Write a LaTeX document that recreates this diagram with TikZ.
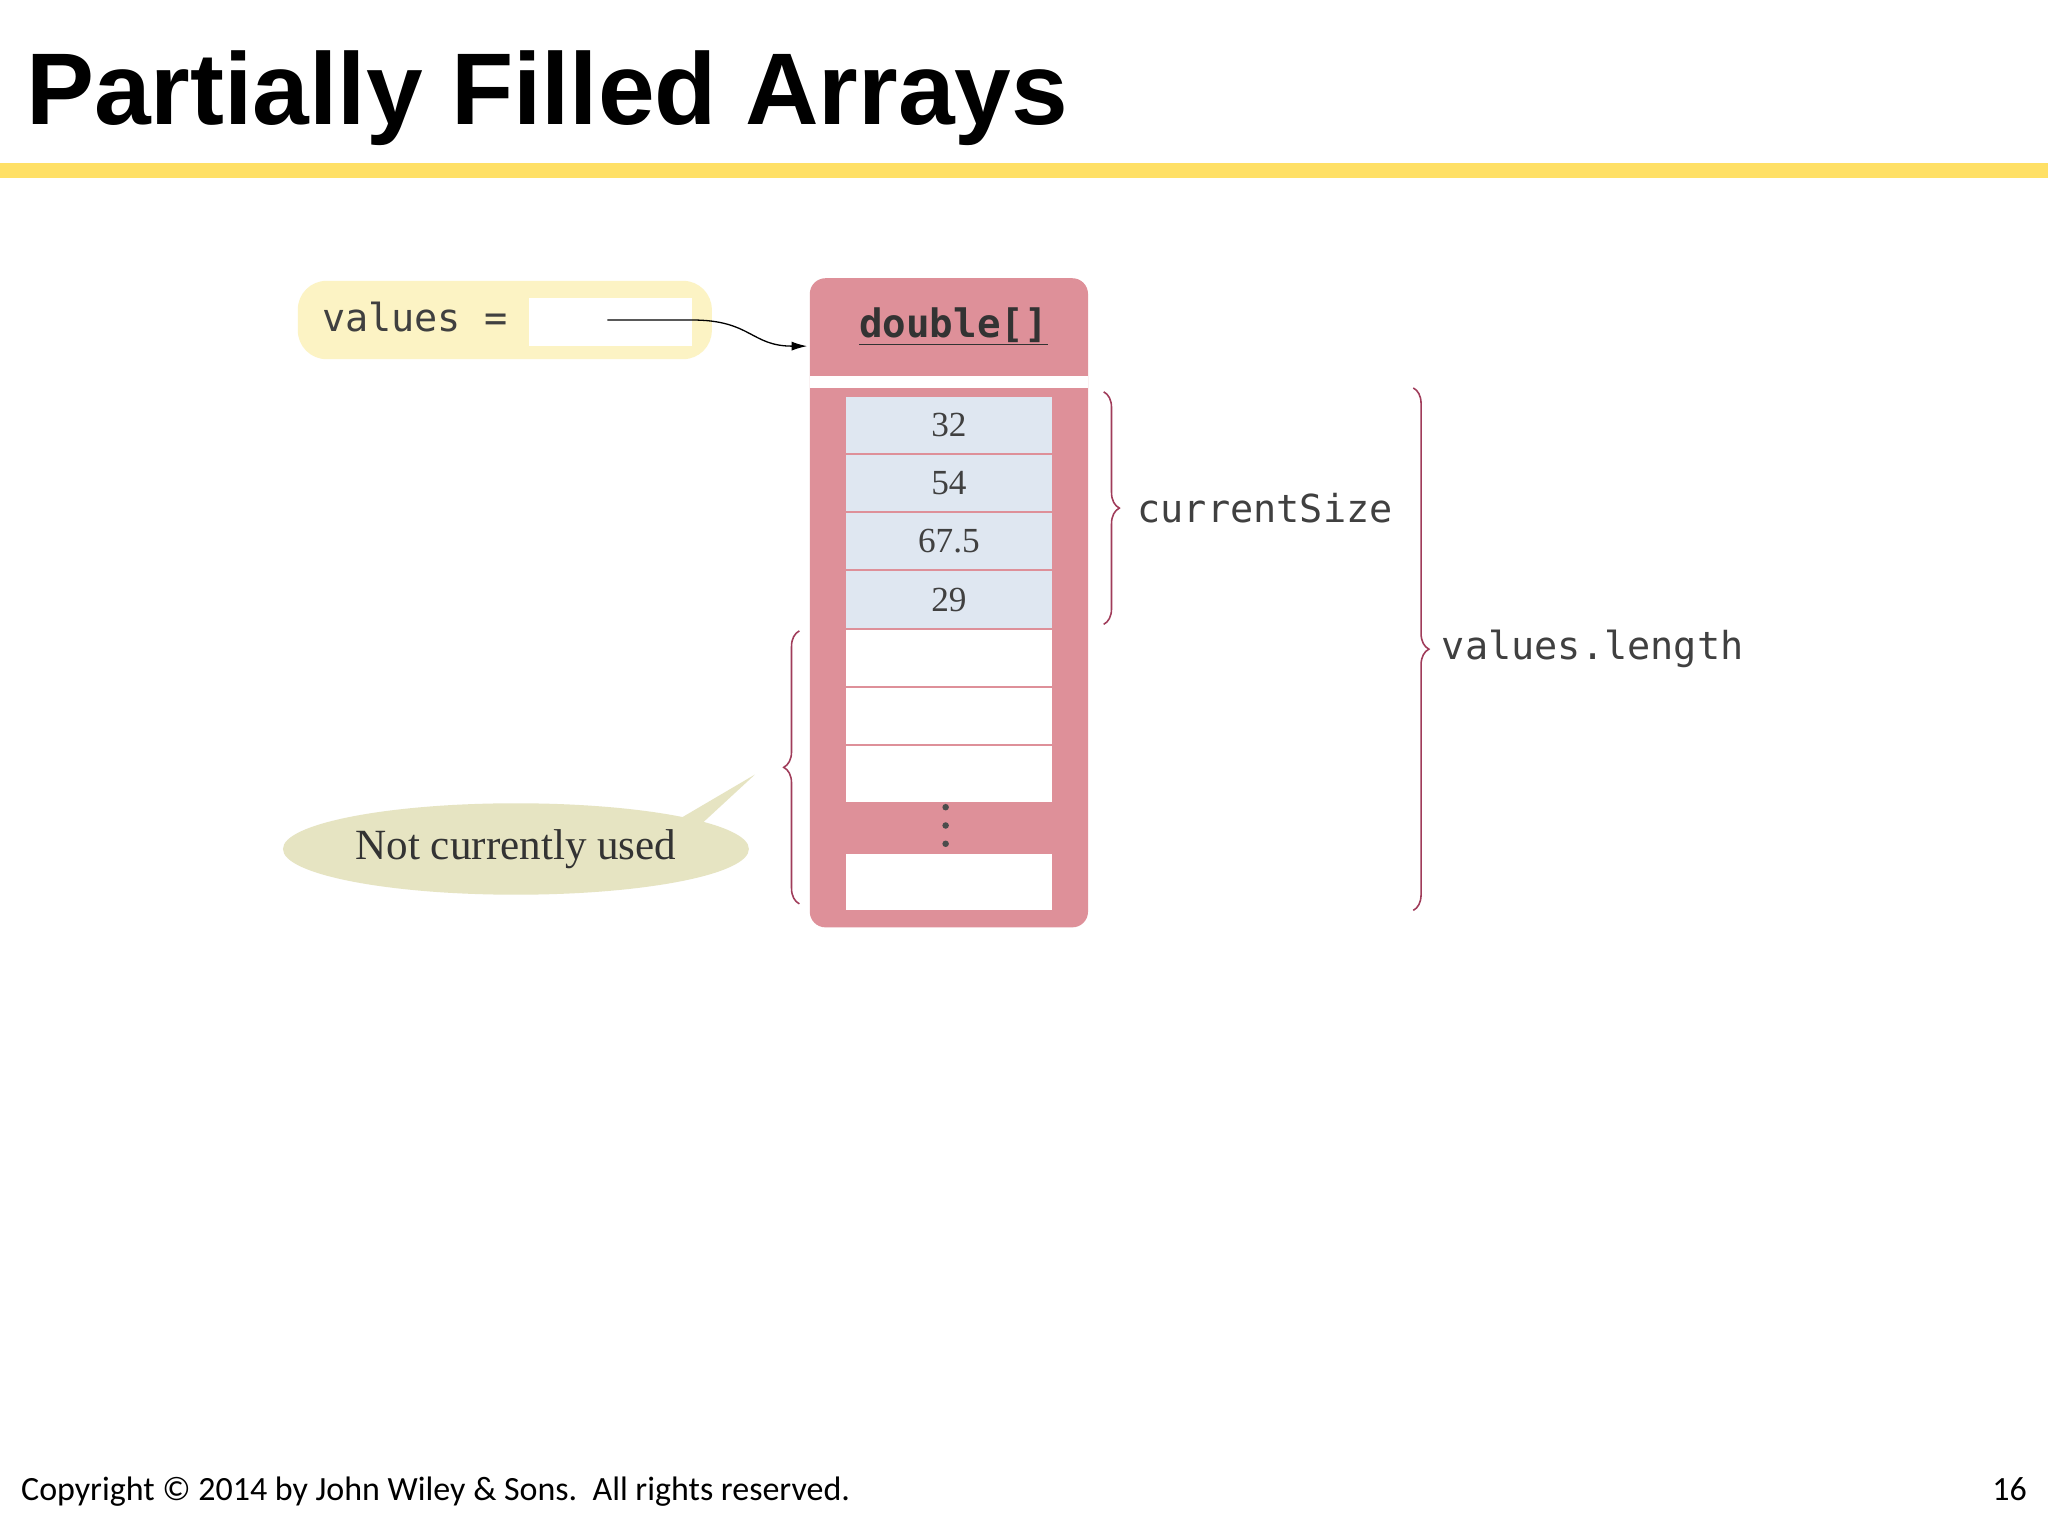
\documentclass[tikz,border=0pt]{standalone}
\usepackage{fontspec}
\setmainfont{Liberation Serif}
\newfontfamily\titlefont{Liberation Sans}
\newfontfamily\footfont{Carlito}
\newfontfamily\monofont{DejaVu Sans Mono}
\usetikzlibrary{decorations.pathreplacing,arrows.meta,shapes.geometric}
\definecolor{ttlyel}{HTML}{FFE066}
\definecolor{valyel}{HTML}{FCF3C4}
\definecolor{arrpink}{HTML}{DE9099}
\definecolor{cellblue}{HTML}{DFE7F1}
\definecolor{bracec}{HTML}{A03C5A}
\definecolor{callout}{HTML}{E6E4C2}
\tikzset{
 cell/.style={draw=arrpink, line width=1pt, minimum width=159pt, minimum height=44pt, inner sep=0pt, font=\fontsize{27}{27}\selectfont},
 brc/.style={draw=bracec, line width=1.2pt, decorate, decoration={brace, amplitude=12pt}},
 mono/.style={font=\monofont\fontsize{29.5}{29.5}\selectfont, text=black!75},
 dotc/.style={fill=black!70, circle, inner sep=0pt, minimum size=5pt}
}
\begin{document}
\begin{tikzpicture}[x=1pt,y=-1pt]
\useasboundingbox (0,0) rectangle (1568,1176);
\fill[white] (0,0) rectangle (1568,1176);
\node[anchor=base west, inner sep=0pt, font=\titlefont\bfseries\fontsize{78}{78}\selectfont] (title) at (20,95) {Partially Filled Arrays};
\fill[ttlyel] (0,125) rectangle (1568,136);
% values box
\fill[valyel, rounded corners=22pt] (228,215) rectangle (545,275);
\fill[white] (405,228) rectangle (530,265);
\node[mono, anchor=west] (vals) at (243,243) {values =};
\coordinate (vstart) at (465,245);
% array
\fill[arrpink, rounded corners=12pt] (620,213) rectangle (833,710);
\fill[white] (620,288) rectangle (833,297);
\node[font=\monofont\bfseries\fontsize{30}{30}\selectfont, text=black!80] (dbl) at (730,250) {\underline{double[]}};
\draw[line width=1pt, -{Latex[length=12pt,width=7pt]}] (vstart) -- (530,245) .. controls (575,245) and (575,265) .. (618,265);
\foreach \i/\t in {0/32,1/54,2/67.5,3/29}{
  \node[cell, fill=cellblue, text=black!75] (c\i) at (726.5,325.5+44.5*\i) {\t};
}
\foreach \i in {4,5,6}{
  \node[cell, fill=white] (c\i) at (726.5,325.5+44.5*\i) {};
}
\node[cell, fill=white] (clast) at (726.5,675) {};
\node[dotc] (d1) at (724,618) {};
\node[dotc] (d2) at (724,632) {};
\node[dotc] (d3) at (724,646) {};
% braces
\draw[brc] (845,300) -- (845,478) node[midway, right=22pt, mono] (cs) {currentSize};
\draw[brc] (1082,297) -- (1082,697) node[midway, right=18pt, mono] (vl) {values.length};
\draw[brc] (612,692) -- (612,483) node[midway] (lb) {};
% callout
\fill[callout] (515,630) -- (578,593) -- (500,665) -- cycle;
\node[ellipse, fill=callout, minimum width=305pt, minimum height=70pt, font=\fontsize{33}{33}\selectfont, text=black!80] (nc) at (395,650) {Not currently used};
% footer
\node[anchor=base west, inner sep=0pt, font=\footfont\fontsize{26}{26}\selectfont] (copy) at (16,1149) {Copyright © 2014 by John Wiley \& Sons.\ \ All rights reserved.};
\node[anchor=base east, inner sep=0pt, font=\footfont\fontsize{26}{26}\selectfont] (pg) at (1552,1149) {16};
\end{tikzpicture}
\end{document}
